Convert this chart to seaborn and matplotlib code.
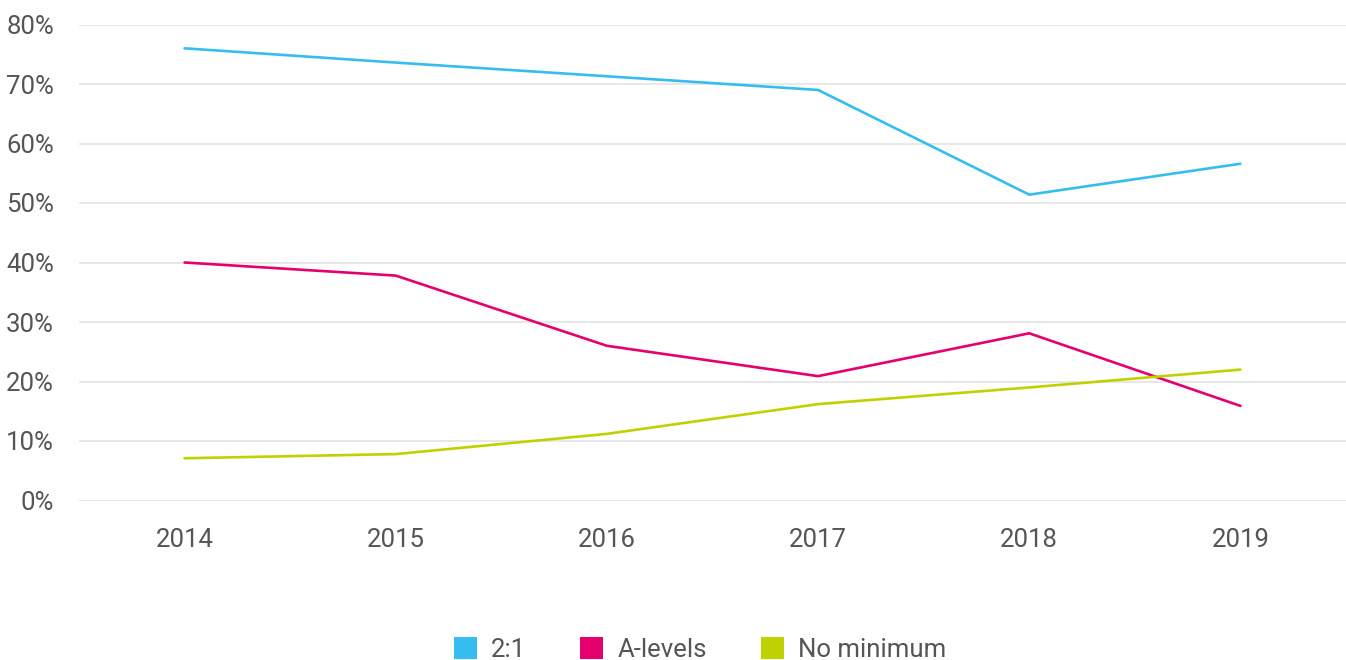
import matplotlib
matplotlib.use("Agg")
import matplotlib.pyplot as plt
from matplotlib.patches import Patch
from matplotlib.ticker import FuncFormatter
import seaborn as sns
import pandas as pd

years = [2014, 2015, 2016, 2017, 2018, 2019]
two_one = [76.0, 73.6, 71.3, 69.0, 51.4, 56.6]
a_levels = [40.0, 37.8, 26.0, 20.9, 28.1, 15.9]
no_minimum = [7.1, 7.8, 11.2, 16.2, 19.0, 22.0]
series_names = ["2:1", "A-levels", "No minimum"]
colors = ["#36BDEF", "#E5006E", "#BFD200"]
y_ticks = [0, 10, 20, 30, 40, 50, 60, 70, 80]

df = pd.DataFrame({
    "year": years * 3,
    "value": two_one + a_levels + no_minimum,
    "series": [series_names[0]] * 6 + [series_names[1]] * 6 + [series_names[2]] * 6,
})

sns.set_theme(style="white")
plt.rcParams["font.family"] = ["Roboto", "DejaVu Sans"]

fig = plt.figure(figsize=(13.46, 6.6), dpi=100)
ax = fig.add_axes([79 / 1346, (660 - 500.5) / 660, 1 - 79 / 1346, (500.5 - 24.5) / 660])

sns.lineplot(data=df, x="year", y="value", hue="series", palette=colors,
             linewidth=1.9, ax=ax, legend=False)

ax.set_xlim(2013.5, 2019.5)
ax.set_ylim(0, 80)
ax.set_yticks(y_ticks)
ax.set_xticks(years)
ax.set_xticklabels([str(y) for y in years])
ax.yaxis.set_major_formatter(FuncFormatter(lambda v, p: f"{int(v)}%"))
ax.grid(axis="y", color="#e6e6e6", linewidth=1.3)
ax.grid(axis="x", visible=False)
ax.set_axisbelow(True)
for s in ax.spines.values():
    s.set_visible(False)
ax.tick_params(axis="both", length=0, labelsize=18.5, labelcolor="#555555")
ax.tick_params(axis="y", pad=18)
ax.tick_params(axis="x", pad=20)
ax.set_xlabel("")
ax.set_ylabel("")

handles = [Patch(facecolor=c, edgecolor="none", label=n) for c, n in zip(colors, series_names)]
leg = fig.legend(handles=handles, loc="lower center", bbox_to_anchor=(0.52, -0.028), ncol=3,
                 frameon=False, fontsize=18.5, handlelength=0.9, handleheight=0.9,
                 handletextpad=0.55, columnspacing=2.1, labelcolor="#555555", borderpad=0.15)

fig.savefig("out.png", dpi=100)
